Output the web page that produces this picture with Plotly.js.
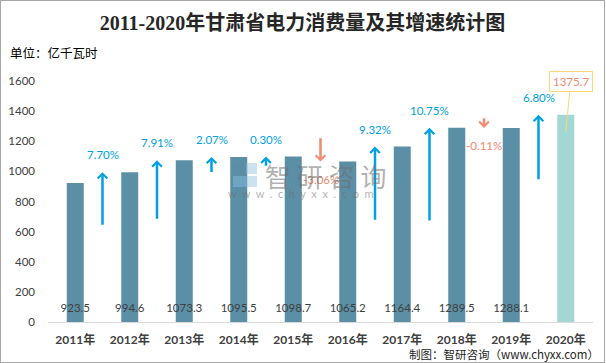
<!DOCTYPE html>
<html>
<head>
<meta charset="utf-8">
<script src="https://cdn.plot.ly/plotly-3.0.1.min.js"></script>
<style>
  html, body { margin: 0; padding: 0; background: #ffffff; }
  #chart { width: 605px; height: 363px; border: 1px solid #a6a6a6; box-sizing: border-box; }
</style>
</head>
<body>
<div id="chart"></div>
<script>
// ---- data ----
const categories = ['2011年', '2012年', '2013年', '2014年', '2015年', '2016年', '2017年', '2018年', '2019年', '2020年'];
const consumption = [923.5, 994.6, 1073.3, 1095.5, 1098.7, 1065.2, 1164.4, 1289.5, 1288.1, 1375.7];
const growthPct = [null, 7.70, 7.91, 2.07, 0.30, -3.06, 9.32, 10.75, -0.11, 6.80];
// value (亿千瓦时) at which each growth arrow starts (tail); the tip is the year's consumption
const arrowTail = [null, 635, 675, 986, 1028, 1230, 669, 664, 1363, 937];
const yTickVals = [0, 200, 400, 600, 800, 1000, 1200, 1400, 1600];

// ---- styles ----
const W = 603, H = 361;
const M = { l: 47, r: 11, t: 80, b: 40 };
const plotW = W - M.l - M.r, plotH = H - M.t - M.b;
const px2x = px => (px - 1 - M.l) / plotW;      // page pixel -> paper x
const py2y = py => 1 - (py - 1 - M.t) / plotH;  // page pixel -> paper y

const barColor = '#5b8fa6';
const lastColor = '#a2d7d4';
const upColor = '#00a0e3';
const downColor = '#f08a70';
const numFont = 'Lato, "Liberation Sans", sans-serif';
const cjkFont = 'Lato, "Noto Sans CJK SC", sans-serif';

const last = categories.length - 1;

const barTrace = {
  type: 'bar',
  x: categories,
  y: consumption,
  marker: { color: categories.map((c, i) => i === last ? lastColor : barColor) },
  hoverinfo: 'x+y'
};

const VALUE_LABEL_Y = 88;
const valueTrace = {
  type: 'scatter',
  mode: 'text',
  x: categories.slice(0, last),
  y: categories.slice(0, last).map(() => VALUE_LABEL_Y),
  text: consumption.slice(0, last).map(v => v.toFixed(1)),
  textposition: 'middle center',
  textfont: { family: numFont, size: 11.5, color: '#404040' },
  cliponaxis: false,
  hoverinfo: 'skip',
  showlegend: false
};

const annotations = [];

for (let i = 1; i < categories.length; i++) {
  const up = growthPct[i] >= 0;
  const col = up ? upColor : downColor;
  annotations.push({
    x: i - 0.5, y: consumption[i], xref: 'x', yref: 'y',
    ax: i - 0.5, ay: arrowTail[i], axref: 'x', ayref: 'y',
    text: '', showarrow: true, arrowhead: 4, arrowsize: 0.75, arrowwidth: 2.5,
    arrowcolor: col, standoff: 0, startstandoff: 0
  });
  annotations.push({
    x: i - 0.5, y: consumption[i], xref: 'x', yref: 'y',
    yshift: up ? 17.5 : -17.5,
    text: growthPct[i].toFixed(2) + '%', showarrow: false,
    font: { family: numFont, size: 11.5, color: col }
  });
}

// callout for the last year
annotations.push({
  x: last, y: consumption[last], xref: 'x', yref: 'y', yshift: -17,
  text: consumption[last].toFixed(1), showarrow: true, arrowhead: 0,
  arrowwidth: 1, arrowcolor: '#ffd67a', ax: 5, ay: -50, standoff: 0,
  bordercolor: '#ffd67a', borderwidth: 1, borderpad: 3, bgcolor: '#ffffff',
  font: { family: numFont, size: 11.5, color: downColor }
});

// unit label
annotations.push({
  xref: 'paper', yref: 'paper', x: px2x(8), y: py2y(52), xanchor: 'left', yanchor: 'middle',
  text: '单位：亿千瓦时', showarrow: false,
  font: { family: '"Noto Sans CJK SC", sans-serif', size: 12.5, color: '#000000' }
});

// source footer
annotations.push({
  xref: 'paper', yref: 'paper', x: px2x(601), y: py2y(354), xanchor: 'right', yanchor: 'middle',
  text: '制图：智研咨询（www.chyxx.com）', showarrow: false,
  font: { family: '"Noto Sans CJK SC", sans-serif', size: 11.5, color: '#262626' }
});

// watermark
annotations.push({
  xref: 'paper', yref: 'paper', x: px2x(325), y: py2y(175), xanchor: 'center', yanchor: 'middle',
  text: '智 研 咨 询', showarrow: false,
  font: { family: '"Noto Sans CJK SC", sans-serif', size: 26, color: 'rgba(110,110,110,0.55)' }
});
annotations.push({
  xref: 'paper', yref: 'paper', x: px2x(301), y: py2y(193), xanchor: 'center', yanchor: 'middle',
  text: 'w  w  w  .  c  h  y  x  x  .  c  o  m', showarrow: false,
  font: { family: numFont, size: 11, color: 'rgba(110,110,110,0.55)' }
});

const shapes = [
  { type: 'rect', xref: 'paper', yref: 'paper', x0: px2x(233), x1: px2x(244), y0: py2y(174), y1: py2y(163),
    fillcolor: 'rgba(91,143,166,0.45)', line: { width: 0 } },
  { type: 'rect', xref: 'paper', yref: 'paper', x0: px2x(246), x1: px2x(257), y0: py2y(174), y1: py2y(163),
    fillcolor: 'rgba(140,190,225,0.45)', line: { width: 0 } },
  { type: 'rect', xref: 'paper', yref: 'paper', x0: px2x(233), x1: px2x(257), y0: py2y(187), y1: py2y(176),
    fillcolor: 'rgba(140,190,225,0.45)', line: { width: 0 } }
];

const layout = {
  width: W, height: H,
  margin: M,
  paper_bgcolor: '#ffffff', plot_bgcolor: '#ffffff',
  showlegend: false,
  bargap: 0.688,
  title: {
    text: '2011-2020年甘肃省电力消费量及其增速统计图',
    xref: 'container', yref: 'container', x: 0.5, xanchor: 'center',
    y: 1 - 22 / H, yanchor: 'middle',
    font: { family: '"Liberation Serif", "Noto Sans CJK SC", serif', size: 20, color: '#262626', weight: 'bold' }
  },
  xaxis: {
    type: 'category', categoryorder: 'array', categoryarray: categories,
    showgrid: false, zeroline: false, showline: true, linecolor: '#d9d9d9', linewidth: 1,
    ticks: '', ticklabelstandoff: 7,
    tickfont: { family: cjkFont, size: 12, color: '#404040', weight: 'bold' },
    fixedrange: true
  },
  yaxis: {
    range: [0, 1600], tickvals: yTickVals, ticktext: yTickVals.map(String),
    showgrid: false, zeroline: false, showline: false,
    ticks: '', ticklabelstandoff: 12,
    tickfont: { family: numFont, size: 11.5, color: '#404040' },
    fixedrange: true
  },
  annotations: annotations,
  shapes: shapes
};

Plotly.newPlot('chart', [barTrace, valueTrace], layout, { displayModeBar: false, staticPlot: true });
</script>
</body>
</html>
